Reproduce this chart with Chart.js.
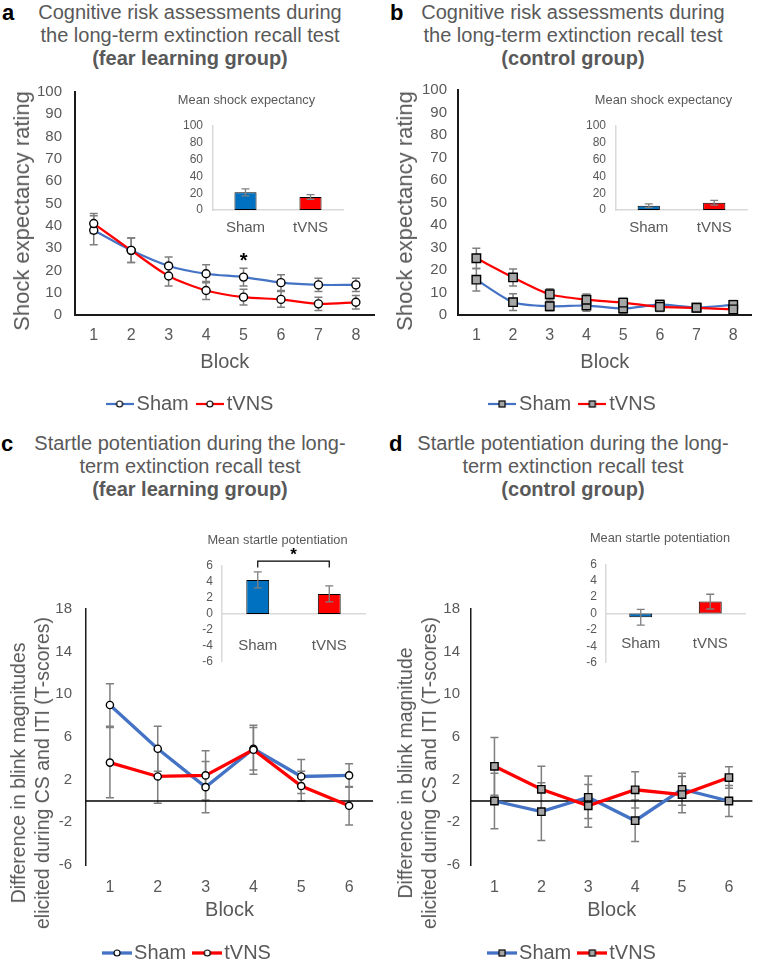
<!DOCTYPE html>
<html>
<head>
<meta charset="utf-8">
<script src="https://cdn.jsdelivr.net/npm/chart.js@4.4.1/dist/chart.umd.min.js"></script>
<style>
  html, body { margin: 0; padding: 0; background: #fff; width: 759px; height: 961px; overflow: hidden; }
  #fig { position: relative; width: 759px; height: 961px; overflow: hidden;
         font-family: 'Liberation Sans', Arial, sans-serif; color: #595959; }
  canvas { position: absolute; }
  .ttl { position: absolute; width: 380px; text-align: center; font-size: 20px; line-height: 23px; }
  .tag { position: absolute; font-weight: bold; font-size: 22px; line-height: 23px; color: #000; }
  .ylab { position: absolute; white-space: nowrap; text-align: center;
          transform: translate(-50%, -50%) rotate(-90deg); }
</style>
</head>
<body>
<div id="fig">
  <div class="tag" style="left:2px;top:1px">a</div>
  <div class="ttl" style="left:0;top:1px">Cognitive risk assessments during<br>the long-term extinction recall test<br><b>(fear learning group)</b></div>
  <div class="tag" style="left:390px;top:1px">b</div>
  <div class="ttl" style="left:383px;top:1px">Cognitive risk assessments during<br>the long-term extinction recall test<br><b>(control group)</b></div>
  <div class="tag" style="left:1px;top:432px">c</div>
  <div class="ttl" style="left:0;top:432px">Startle potentiation during the long-<br>term extinction recall test<br><b>(fear learning group)</b></div>
  <div class="tag" style="left:389px;top:432px">d</div>
  <div class="ttl" style="left:383px;top:432px">Startle potentiation during the long-<br>term extinction recall test<br><b>(control group)</b></div>

  <canvas id="chartA" width="380" height="360" style="left:0;top:70px"></canvas>
  <canvas id="chartB" width="379" height="360" style="left:380px;top:70px"></canvas>
  <canvas id="chartC" width="380" height="415" style="left:0;top:560px"></canvas>
  <canvas id="chartD" width="379" height="415" style="left:380px;top:560px"></canvas>
  <canvas id="insetA" width="230" height="152" style="left:150px;top:88px"></canvas>
  <canvas id="insetB" width="176" height="152" style="left:580px;top:88px"></canvas>
  <canvas id="insetC" width="190" height="153" style="left:190px;top:525px"></canvas>
  <canvas id="insetD" width="184" height="156" style="left:575px;top:523px"></canvas>

  <div class="ylab" style="left:22px;top:211px;font-size:22px">Shock expectancy rating</div>
  <div class="ylab" style="left:405px;top:211px;font-size:22px">Shock expectancy rating</div>
  <div class="ylab" style="left:30px;top:773px;font-size:19.5px;line-height:24px">Difference in blink magnitudes<br>elicited during CS and ITI (T-scores)</div>
  <div class="ylab" style="left:417px;top:773px;font-size:19.5px;line-height:24px">Difference in blink magnitude<br>elicited during CS and ITI (T-scores)</div>
</div>

<script>
// ---- data ----
const blocks8 = ["1", "2", "3", "4", "5", "6", "7", "8"];
const blocks6 = ["1", "2", "3", "4", "5", "6"];
const groups = ["Sham", "tVNS"];

const expTicks = [0, 10, 20, 30, 40, 50, 60, 70, 80, 90, 100];
const expInsetTicks = [0, 20, 40, 60, 80, 100];
const startleTicks = [-6, -2, 2, 6, 10, 14, 18];
const startleInsetTicks = [-6, -4, -2, 0, 2, 4, 6];

// a: shock expectancy, fear learning group
const shamExpFear = [38, 29, 22, 18.5, 17, 14.5, 13.5, 13.5];
const shamExpFearErr = [6.5, 5.5, 4, 4, 4, 3.5, 3, 3];
const tvnsExpFear = [41, 29, 17.5, 11, 8, 7, 5, 5.7];
const tvnsExpFearErr = [4.5, 5.5, 4.5, 4, 3.5, 3.5, 3, 3];
const meanExpFear = [21, 15.5];
const meanExpFearErr = [4.2, 2.7];

// b: shock expectancy, control group
const shamExpCtrl = [15.7, 5.7, 3.9, 4.2, 2.9, 4.6, 3.3, 4.5];
const shamExpCtrlErr = [5, 3.7, 2, 2.5, 2, 2, 1.5, 2];
const tvnsExpCtrl = [25.2, 16.7, 9.2, 6.8, 5.5, 3.6, 3.2, 2.5];
const tvnsExpCtrlErr = [4.5, 3.8, 2.5, 2.5, 2, 2, 1.5, 1.5];
const meanExpCtrl = [5.1, 8.6];
const meanExpCtrlErr = [2.3, 2.8];

// c: startle potentiation, fear learning group
const shamStartleFear = [9.0, 4.9, 1.3, 4.9, 2.3, 2.4];
const shamStartleFearErr = [2, 2.1, 2.4, 2, 1.6, 1.1];
const tvnsStartleFear = [3.6, 2.3, 2.4, 4.8, 1.4, -0.45];
const tvnsStartleFearErr = [3.3, 2.5, 2.3, 2.3, 1.4, 1.8];
const meanStartleFear = [4.25, 2.5];
const meanStartleFearErr = [1.0, 1.0];

// d: startle potentiation, control group
const shamStartleCtrl = [0, -1.0, 0.35, -1.85, 1.1, 0];
const shamStartleCtrlErr = [2.6, 2.7, 2.0, 1.95, 1.5, 1.45];
const tvnsStartleCtrl = [3.25, 1.1, -0.45, 1.05, 0.6, 2.2];
const tvnsStartleCtrlErr = [2.7, 2.15, 2.0, 1.7, 1.7, 1.0];
const meanStartleCtrl = [-0.45, 1.45];
const meanStartleCtrlErr = [0.95, 0.9];

// ---- styles ----
const SHAM = "#4472C4";
const TVNS = "#FF0000";
const SHAM_BAR = "#0070C0";
const GREY = "#595959";

Chart.defaults.font.family = "'Liberation Sans', Arial, sans-serif";
Chart.defaults.color = GREY;
Chart.defaults.animation = false;
Chart.defaults.events = [];
Chart.defaults.plugins.tooltip.enabled = false;

// error bars for every dataset that carries an `errors` array
function drawErrors(chart, opts) {
  const { ctx } = chart;
  chart.data.datasets.forEach((ds, i) => {
    if (!ds.errors) return;
    const meta = chart.getDatasetMeta(i);
    const y = chart.scales[meta.yAxisID];
    const cap = opts.cap || 8;
    ctx.save();
    ctx.strokeStyle = opts.color || "#7F7F7F";
    ctx.lineWidth = opts.width || 1.5;
    meta.data.forEach((el, j) => {
      const v = ds.data[j];
      const e = ds.errors[j];
      const top = y.getPixelForValue(v + e);
      const bot = y.getPixelForValue(v - e);
      ctx.beginPath();
      ctx.moveTo(el.x, top);
      ctx.lineTo(el.x, bot);
      ctx.moveTo(el.x - cap / 2, top);
      ctx.lineTo(el.x + cap / 2, top);
      ctx.moveTo(el.x - cap / 2, bot);
      ctx.lineTo(el.x + cap / 2, bot);
      ctx.stroke();
    });
    ctx.restore();
  });
}

const errorBars = {
  id: "errorBars",
  beforeDatasetsDraw(chart, args, opts) {
    if (!opts.onTop) drawErrors(chart, opts);
  },
  afterDatasetsDraw(chart, args, opts) {
    if (opts.onTop) drawErrors(chart, opts);
  },
};

// horizontal line at y = 0
const zeroLine = {
  id: "zeroLine",
  beforeDatasetsDraw(chart, args, opts) {
    if (!opts.color) return;
    const { ctx, chartArea } = chart;
    const y = chart.scales.y.getPixelForValue(0);
    ctx.save();
    ctx.strokeStyle = opts.color;
    ctx.lineWidth = opts.width || 1.5;
    ctx.beginPath();
    ctx.moveTo(chartArea.left, y);
    ctx.lineTo(chartArea.right, y);
    ctx.stroke();
    ctx.restore();
  },
};

// significance stars and brackets
const marks = {
  id: "marks",
  afterDraw(chart, args, opts) {
    const { ctx } = chart;
    const xs = chart.scales.x;
    const ys = chart.scales.y;
    ctx.save();
    ctx.fillStyle = "#000";
    ctx.strokeStyle = "#000";
    ctx.textAlign = "center";
    ctx.textBaseline = "middle";
    (opts.stars || []).forEach((s) => {
      ctx.font = "bold " + s.size + "px 'Liberation Sans', Arial, sans-serif";
      ctx.fillText("*", xs.getPixelForValue(s.index), ys.getPixelForValue(s.value));
    });
    const b = opts.bracket;
    if (b) {
      const x1 = xs.getPixelForValue(b.from);
      const x2 = xs.getPixelForValue(b.to);
      const yTop = ys.getPixelForValue(b.value);
      const yLeg = ys.getPixelForValue(b.value - b.leg);
      ctx.lineWidth = 1.2;
      ctx.beginPath();
      ctx.moveTo(x1, yLeg);
      ctx.lineTo(x1, yTop);
      ctx.lineTo(x2, yTop);
      ctx.lineTo(x2, yLeg);
      ctx.stroke();
      ctx.font = "bold " + b.size + "px 'Liberation Sans', Arial, sans-serif";
      ctx.fillText("*", (x1 + x2) / 2, ys.getPixelForValue(b.starValue));
    }
    ctx.restore();
  },
};

Chart.register(errorBars, zeroLine, marks);

// legend entry: short line with the marker in the middle
function legendIcon(color, shape, w, lw) {
  const c = document.createElement("canvas");
  c.width = w;
  c.height = 12;
  const g = c.getContext("2d");
  g.strokeStyle = color;
  g.lineWidth = lw;
  g.beginPath();
  g.moveTo(0, 6);
  g.lineTo(w, 6);
  g.stroke();
  g.strokeStyle = "#000";
  g.lineWidth = 1.2;
  if (shape === "circle") {
    g.fillStyle = "#fff";
    g.beginPath();
    g.arc(w / 2, 6, 3, 0, Math.PI * 2);
    g.fill();
    g.stroke();
  } else {
    g.fillStyle = "#A6A6A6";
    g.fillRect(w / 2 - 3, 3, 6, 6);
    g.strokeRect(w / 2 - 3, 3, 6, 6);
  }
  return c;
}

function makeLineChart(id, cfg) {
  const point = cfg.shape === "circle"
    ? { pointStyle: "circle", pointRadius: cfg.radius, pointBackgroundColor: "#fff" }
    : { pointStyle: "rect", pointRadius: cfg.radius, pointBackgroundColor: "#A6A6A6" };
  const common = {
    ...point,
    pointBorderColor: "#000",
    pointBorderWidth: 1.4,
    borderWidth: cfg.lineWidth,
    tension: cfg.tension,
    fill: false,
    clip: false,
  };
  const icons = [
    legendIcon(SHAM, cfg.shape, cfg.iconW, cfg.lineWidth),
    legendIcon(TVNS, cfg.shape, cfg.iconW, cfg.lineWidth),
  ];

  return new Chart(document.getElementById(id), {
    type: "line",
    data: {
      labels: cfg.labels,
      datasets: [
        { label: "Sham", data: cfg.sham, errors: cfg.shamErr, borderColor: SHAM, order: 1, ...common },
        { label: "tVNS", data: cfg.tvns, errors: cfg.tvnsErr, borderColor: TVNS, order: 0, ...common },
      ],
    },
    options: {
      responsive: false,
      layout: { padding: cfg.pad },
      scales: {
        x: {
          offset: true,
          grid: { display: false, drawTicks: false },
          border: { display: cfg.xBorder, color: "#1a1a1a", width: 2 },
          ticks: { font: { size: 16 }, padding: cfg.xTickPad, color: GREY },
          title: { display: true, text: "Block", font: { size: 20 }, color: GREY, padding: { top: 0, bottom: cfg.xTitlePad } },
          afterFit(scale) { scale.height = cfg.xHeight; },
        },
        y: {
          min: cfg.yTicks[0],
          max: cfg.yTicks[cfg.yTicks.length - 1],
          grid: { display: false, drawTicks: false },
          border: { color: "#1a1a1a", width: cfg.yBorderW },
          ticks: { font: { size: 15 }, padding: cfg.yTickPad, color: GREY, autoSkip: false },
          afterBuildTicks(scale) { scale.ticks = cfg.yTicks.map((v) => ({ value: v })); },
          afterFit(scale) { scale.width = cfg.yWidth; },
        },
      },
      plugins: {
        legend: {
          position: "bottom",
          labels: {
            font: { size: 20 },
            usePointStyle: true,
            pointStyleWidth: 14,
            padding: 14,
            generateLabels: (chart) =>
              chart.data.datasets.map((ds, i) => ({
                text: ds.label,
                pointStyle: icons[i],
                fontColor: GREY,
                datasetIndex: i,
                lineWidth: 0,
                hidden: false,
              })),
          },
        },
        errorBars: { color: "#7F7F7F", width: 1.5, cap: 8 },
        zeroLine: cfg.zeroLine ? { color: "#000", width: 1.5 } : {},
        marks: cfg.marks || {},
      },
    },
  });
}

function makeInset(id, cfg) {
  return new Chart(document.getElementById(id), {
    type: "bar",
    data: {
      labels: groups,
      datasets: [
        {
          data: cfg.data,
          errors: cfg.err,
          backgroundColor: [SHAM_BAR, TVNS],
          borderColor: "#000",
          borderWidth: 1,
          borderSkipped: false,
          categoryPercentage: 1,
          barPercentage: cfg.barFrac,
        },
      ],
    },
    options: {
      responsive: false,
      layout: { padding: cfg.pad },
      scales: {
        x: {
          position: cfg.xPos,
          grid: { display: false, drawTicks: false },
          border: { color: "#D9D9D9", width: 1.5 },
          ticks: { font: { size: 15 }, padding: cfg.xTickPad, color: GREY },
          afterFit(scale) { if (cfg.xHeight) scale.height = cfg.xHeight; },
        },
        y: {
          min: cfg.yTicks[0],
          max: cfg.yTicks[cfg.yTicks.length - 1],
          grid: { display: false, drawTicks: false },
          border: { color: "#D9D9D9", width: 1.5 },
          ticks: { font: { size: 12 }, padding: cfg.yTickPad, color: GREY, autoSkip: false },
          afterBuildTicks(scale) { scale.ticks = cfg.yTicks.map((v) => ({ value: v })); },
          afterFit(scale) { scale.width = cfg.yWidth; },
        },
      },
      plugins: {
        legend: { display: false },
        title: {
          display: true,
          text: cfg.title,
          font: { size: 12.8, weight: "normal" },
          color: GREY,
          padding: cfg.titlePad,
        },
        errorBars: { onTop: true, color: "#7F7F7F", width: 1.3, cap: 8 },
        marks: cfg.marks || {},
      },
    },
  });
}

// ---- panel a ----
makeLineChart("chartA", {
  labels: blocks8, sham: shamExpFear, shamErr: shamExpFearErr, tvns: tvnsExpFear, tvnsErr: tvnsExpFearErr,
  yTicks: expTicks, shape: "circle", radius: 4, lineWidth: 2.2, tension: 0.25, iconW: 28,
  pad: { top: 17, right: 4, bottom: 6, left: 10 }, yWidth: 65, yTickPad: 13, yBorderW: 2,
  xHeight: 65, xTickPad: 11, xTitlePad: 6, xBorder: true,
  marks: { stars: [{ index: 4, value: 24, size: 20 }] },
});

// ---- panel b ----
makeLineChart("chartB", {
  labels: blocks8, sham: shamExpCtrl, shamErr: shamExpCtrlErr, tvns: tvnsExpCtrl, tvnsErr: tvnsExpCtrlErr,
  yTicks: expTicks, shape: "rect", radius: 6, lineWidth: 2.2, tension: 0.25, iconW: 28,
  pad: { top: 17, right: 1, bottom: 6, left: 13 }, yWidth: 65, yTickPad: 11, yBorderW: 2,
  xHeight: 65, xTickPad: 11, xTitlePad: 6, xBorder: true,
});

// ---- panel c ----
makeLineChart("chartC", {
  labels: blocks6, sham: shamStartleFear, shamErr: shamStartleFearErr, tvns: tvnsStartleFear, tvnsErr: tvnsStartleFearErr,
  yTicks: startleTicks, shape: "circle", radius: 3.6, lineWidth: 3.3, tension: 0, iconW: 30,
  pad: { top: 49, right: 7, bottom: 2, left: 8 }, yWidth: 78, yTickPad: 14, yBorderW: 1.5,
  xHeight: 64, xTickPad: 13, xTitlePad: 7, xBorder: false, zeroLine: true,
});

// ---- panel d ----
makeLineChart("chartD", {
  labels: blocks6, sham: shamStartleCtrl, shamErr: shamStartleCtrlErr, tvns: tvnsStartleCtrl, tvnsErr: tvnsStartleCtrlErr,
  yTicks: startleTicks, shape: "rect", radius: 5.2, lineWidth: 3.3, tension: 0, iconW: 30,
  pad: { top: 49, right: 1, bottom: 2, left: 13 }, yWidth: 78, yTickPad: 11, yBorderW: 1.5,
  xHeight: 64, xTickPad: 13, xTitlePad: 7, xBorder: false, zeroLine: true,
});

// ---- insets ----
makeInset("insetA", {
  title: "Mean shock expectancy", data: meanExpFear, err: meanExpFearErr, yTicks: expInsetTicks,
  barFrac: 0.34, pad: { top: 0, right: 37, bottom: 0, left: 0 }, yWidth: 63, yTickPad: 10,
  xPos: "bottom", xHeight: 30, xTickPad: 9, titlePad: { top: 5, bottom: 17.6 },
});
makeInset("insetB", {
  title: "Mean shock expectancy", data: meanExpCtrl, err: meanExpCtrlErr, yTicks: expInsetTicks,
  barFrac: 0.34, pad: { top: 0, right: 9, bottom: 0, left: 0 }, yWidth: 36, yTickPad: 10,
  xPos: "bottom", xHeight: 30, xTickPad: 9, titlePad: { top: 5, bottom: 17.6 },
});
makeInset("insetC", {
  title: "Mean startle potentiation", data: meanStartleFear, err: meanStartleFearErr, yTicks: startleInsetTicks,
  barFrac: 0.32, pad: { top: 0, right: 15, bottom: 9.5, left: 0 }, yWidth: 32, yTickPad: 9,
  xPos: { y: 0 }, xTickPad: 22.6, titlePad: { top: 7.8, bottom: 17.8 },
  marks: { bracket: { from: 0, to: 1, value: 6.6, leg: 0.8, starValue: 7.3, size: 17 } },
});
makeInset("insetD", {
  title: "Mean startle potentiation", data: meanStartleCtrl, err: meanStartleCtrlErr, yTicks: startleInsetTicks,
  barFrac: 0.33, pad: { top: 0, right: 14, bottom: 9, left: 0 }, yWidth: 31, yTickPad: 9,
  xPos: { y: 0 }, xTickPad: 21.7, titlePad: { top: 7.8, bottom: 18.1 },
});
</script>
</body>
</html>
